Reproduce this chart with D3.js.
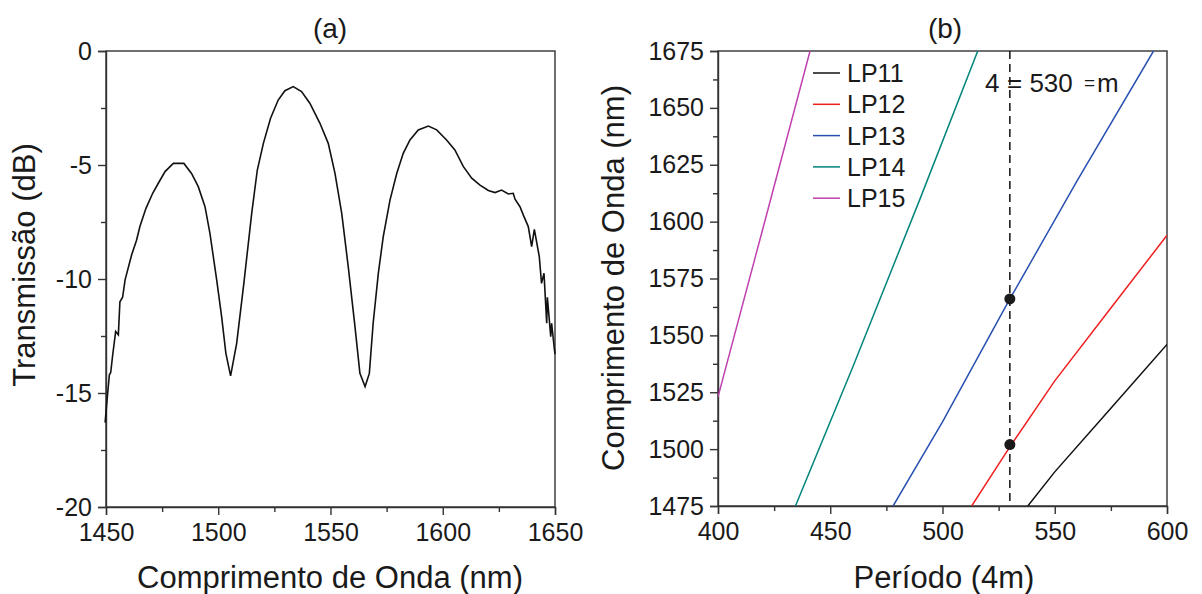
<!DOCTYPE html>
<html lang="en">
<head>
    <meta charset="UTF-8">
    <title>Transmissão / Período</title>
    <script src="https://cdn.jsdelivr.net/npm/d3@7"></script>
    <style>
        html, body {
            margin: 0;
            padding: 0;
            background: #fff;
            overflow: hidden;
        }
        svg text {
            font-family: "Liberation Sans", Arial, sans-serif;
            fill: #1a1a1a;
        }
        .axis path, .axis line {
            stroke: #333;
            stroke-width: 1.4px;
        }
        .axis text {
            font-size: 25px;
            fill: #1a1a1a;
        }
        .title {
            font-size: 31px;
        }
        .panel {
            font-size: 28px;
        }
        .frame {
            fill: none;
            stroke: #333;
            stroke-width: 1.4px;
        }
    </style>
</head>
<body>
<script>
    // (a) espectro de transmissão
    const lambdaA = [1449.6, 1450.3, 1451.5, 1452.1, 1452.9, 1454.3, 1455.5, 1456.2, 1457.4, 1458.5,
        1461.4, 1463.6, 1465.1, 1467.8, 1470.8, 1473.3, 1476.3, 1480.0, 1484.7, 1488.1,
        1491.1, 1494.1, 1496.3, 1499.3, 1501.5, 1503.4, 1505.5, 1508.2, 1511.4, 1514.9,
        1517.4, 1520.1, 1523.3, 1526.7, 1529.7, 1533.4, 1537.1, 1540.8, 1545.3, 1549.0,
        1552.0, 1555.0, 1557.9, 1560.9, 1563.1, 1565.4, 1567.3, 1569.0, 1571.3, 1573.5,
        1576.5, 1579.5, 1582.4, 1585.4, 1589.1, 1593.6, 1597.3, 1601.7, 1605.4, 1609.2,
        1612.9, 1616.6, 1620.3, 1623.3, 1626.2, 1629.2, 1631.4, 1632.2, 1634.4, 1635.9,
        1638.1, 1639.6, 1640.8, 1643.0, 1644.0, 1645.1, 1646.3, 1646.6, 1648.1, 1648.5,
        1649.6, 1650.0];
    const transA = [-16.3, -15.5, -14.2, -14.1, -13.4, -12.3, -12.45, -11.0, -10.8, -10.04,
        -8.95, -8.3, -7.7, -6.9, -6.24, -5.8, -5.29, -4.93, -4.93, -5.37,
        -5.95, -6.83, -8.0, -10.04, -11.65, -13.26, -14.25, -12.82, -10.19, -7.12,
        -5.22, -4.05, -2.95, -2.15, -1.74, -1.56, -1.78, -2.29, -3.17, -4.05,
        -5.37, -7.12, -9.46, -12.09, -14.14, -14.72, -14.14, -11.94, -9.75, -8.14,
        -6.54, -5.37, -4.49, -3.9, -3.46, -3.29, -3.46, -3.9, -4.34, -5.07,
        -5.58, -5.88, -6.12, -6.21, -6.1, -6.27, -6.24, -6.5, -6.83, -7.2,
        -7.7, -8.58, -7.82, -9.02, -10.19, -9.75, -11.94, -10.8, -12.53, -11.94,
        -12.97, -13.3];
    const ticksAx = [1450, 1500, 1550, 1600, 1650];
    const ticksAy = [0, -5, -10, -15, -20];

    // (b) curvas de casamento de fase
    const modes = ['LP11', 'LP12', 'LP13', 'LP14', 'LP15'];
    const modeColors = ['#111111', '#f02020', '#2850b0', '#00857a', '#c040b0'];
    const periodB = [
        [538, 550, 575, 600],
        [513, 530, 550, 575, 600],
        [478, 500, 530, 560, 594],
        [434.5, 460, 490, 515.7],
        [400, 420, 441]
    ];
    const lambdaB = [
        [1475, 1490, 1518, 1546],
        [1475, 1501, 1530, 1562, 1594],
        [1475, 1512, 1566, 1618, 1675],
        [1475, 1536, 1610, 1675],
        [1523, 1597, 1675]
    ];
    const markPeriod = 530;
    const markLambda = [1566, 1502];
    const ticksBx = [400, 450, 500, 550, 600];
    const ticksBy = [1475, 1500, 1525, 1550, 1575, 1600, 1625, 1650, 1675];

    const width = 1202, height = 594;
    const svg = d3.select('body').append('svg')
        .attr('width', width)
        .attr('height', height);

    // ---------- painel (a)
    const xA = d3.scaleLinear().domain([1450, 1650]).range([106, 555]);
    const yA = d3.scaleLinear().domain([-20, 0]).range([507, 51]);

    svg.append('rect').classed('frame', true)
        .attr('x', 106).attr('y', 51).attr('width', 449).attr('height', 456);

    svg.append('g').classed('axis', true)
        .attr('transform', 'translate(0,507)')
        .call(d3.axisBottom(xA).tickValues(d3.range(1475, 1650, 50)).tickSize(5).tickFormat(''))
        .select('.domain').remove();
    svg.append('g').classed('axis', true)
        .attr('transform', 'translate(0,507)')
        .call(d3.axisBottom(xA).tickValues(ticksAx).tickSize(8).tickPadding(8).tickFormat(d3.format('d')));

    svg.append('g').classed('axis', true)
        .attr('transform', 'translate(106,0)')
        .call(d3.axisLeft(yA).tickValues(d3.range(-17.5, 0, 5)).tickSize(5).tickFormat(''))
        .select('.domain').remove();
    svg.append('g').classed('axis', true)
        .attr('transform', 'translate(106,0)')
        .call(d3.axisLeft(yA).tickValues(ticksAy).tickSize(8).tickPadding(6).tickFormat(d => d === 0 ? '0' : '-' + Math.abs(d)));

    const lineA = d3.line()
        .x((d, i) => xA(lambdaA[i]))
        .y(d => yA(d));
    svg.append('path')
        .datum(transA)
        .attr('d', lineA)
        .attr('fill', 'none')
        .attr('stroke', '#111')
        .attr('stroke-width', 1.6);

    svg.append('text').classed('panel', true)
        .attr('x', 330).attr('y', 38).attr('text-anchor', 'middle').text('(a)');
    svg.append('text').classed('title', true)
        .attr('x', 330).attr('y', 588).attr('text-anchor', 'middle').text('Comprimento de Onda (nm)');
    svg.append('text').classed('title', true)
        .attr('transform', 'translate(35,265) rotate(-90)')
        .attr('text-anchor', 'middle').text('Transmissão (dB)');

    // ---------- painel (b)
    const xB = d3.scaleLinear().domain([400, 600]).range([718, 1167]);
    const yB = d3.scaleLinear().domain([1475, 1675]).range([506, 51]);

    svg.append('defs').append('clipPath').attr('id', 'clipB')
        .append('rect').attr('x', 718).attr('y', 51).attr('width', 449).attr('height', 455);

    svg.append('rect').classed('frame', true)
        .attr('x', 718).attr('y', 51).attr('width', 449).attr('height', 455);

    svg.append('g').classed('axis', true)
        .attr('transform', 'translate(0,506)')
        .call(d3.axisBottom(xB).tickValues(d3.range(425, 600, 50)).tickSize(5).tickFormat(''))
        .select('.domain').remove();
    svg.append('g').classed('axis', true)
        .attr('transform', 'translate(0,506)')
        .call(d3.axisBottom(xB).tickValues(ticksBx).tickSize(8).tickPadding(8).tickFormat(d3.format('d')));

    svg.append('g').classed('axis', true)
        .attr('transform', 'translate(718,0)')
        .call(d3.axisLeft(yB).tickValues(d3.range(1487.5, 1675, 25)).tickSize(5).tickFormat(''))
        .select('.domain').remove();
    svg.append('g').classed('axis', true)
        .attr('transform', 'translate(718,0)')
        .call(d3.axisLeft(yB).tickValues(ticksBy).tickSize(8).tickPadding(6).tickFormat(d3.format('d')));

    const plotB = svg.append('g').attr('clip-path', 'url(#clipB)');
    modes.forEach((m, k) => {
        const line = d3.line()
            .x((d, i) => xB(periodB[k][i]))
            .y(d => yB(d));
        plotB.append('path')
            .datum(lambdaB[k])
            .attr('d', line)
            .attr('fill', 'none')
            .attr('stroke', modeColors[k])
            .attr('stroke-width', 1.5);
    });

    svg.append('line')
        .attr('x1', xB(markPeriod)).attr('x2', xB(markPeriod))
        .attr('y1', yB(1675)).attr('y2', yB(1475))
        .attr('stroke', '#111')
        .attr('stroke-width', 1.5)
        .attr('stroke-dasharray', '8,5');

    svg.selectAll('.mark')
        .data(markLambda).enter()
        .append('circle')
        .classed('mark', true)
        .attr('cx', xB(markPeriod))
        .attr('cy', d => yB(d))
        .attr('r', 5.5)
        .attr('fill', '#1a1a1a');

    const legend = svg.append('g').attr('transform', 'translate(813,73)');
    modes.forEach((m, k) => {
        const row = legend.append('g').attr('transform', `translate(0,${k * 31.3})`);
        row.append('line')
            .attr('x1', 0).attr('x2', 27)
            .attr('stroke', modeColors[k])
            .attr('stroke-width', 1.5);
        row.append('text')
            .attr('x', 34).attr('y', 9)
            .style('font-size', '25px')
            .text(m);
    });

    // rótulo do período (glifos como aparecem na figura)
    const note = svg.append('text')
        .attr('y', 92)
        .style('font-size', '26px');
    note.append('tspan').attr('x', 985).text('4');
    note.append('tspan').attr('x', 1007).text('= 530');
    note.append('tspan').attr('x', 1084).attr('y', 89).style('font-size', '19px').text('=');
    note.append('tspan').attr('x', 1097).attr('y', 92).text('m');

    svg.append('text').classed('panel', true)
        .attr('x', 945).attr('y', 38).attr('text-anchor', 'middle').text('(b)');
    svg.append('text').classed('title', true)
        .attr('x', 944).attr('y', 588).attr('text-anchor', 'middle').text('Período (4m)');
    svg.append('text').classed('title', true)
        .attr('transform', 'translate(624,278) rotate(-90)')
        .attr('text-anchor', 'middle').text('Comprimento de Onda (nm)');
</script>
</body>
</html>
